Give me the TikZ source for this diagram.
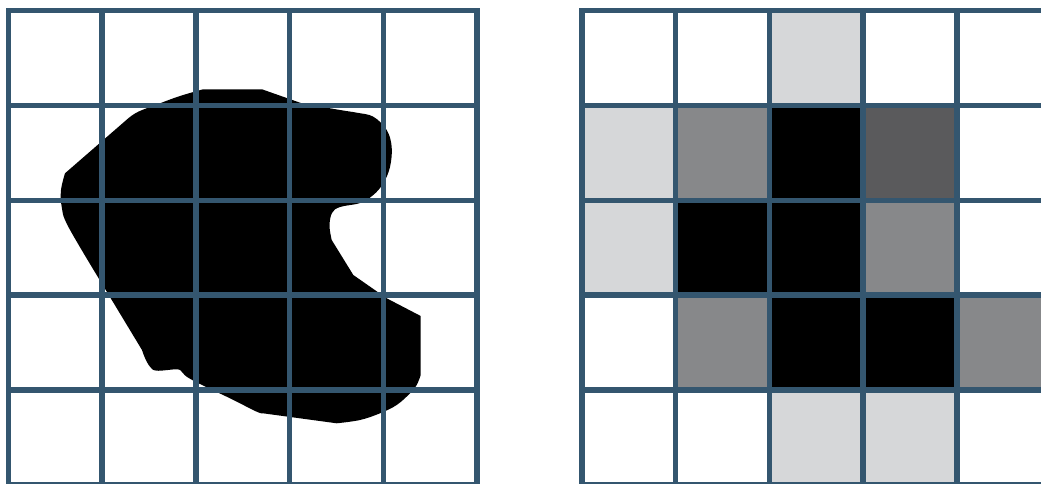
\documentclass[tikz,border=0pt]{standalone}
\definecolor{gridblue}{RGB}{52,86,111}
\definecolor{lgray}{RGB}{214,215,217}
\definecolor{mgray}{RGB}{135,136,138}
\definecolor{dgray}{RGB}{90,90,92}
\tikzset{gridline/.style={draw=gridblue,line width=5.5pt,line cap=rect}}
\begin{document}
\begin{tikzpicture}[x=1pt,y=-1pt]
\useasboundingbox (0,0) rectangle (1041,484);
\clip (0,0) rectangle (1041,484);
% blob
\fill[black] (203,89.3) -- (262,89.3) -- (301.7,103.3)
 -- plot[smooth,tension=0.6] coordinates {(301.7,103.3)(340,110)(356.7,112.7)(373.3,116.7)(386.7,130)(391.7,147)(390,167)(383.3,183.3)(373.3,195)(360,203)(340,207)(332,213)(329.5,226)(331.7,240)}
 -- (353.3,275) -- (386.7,298.3) -- (420.7,316) -- (420.7,375)
 -- plot[smooth,tension=0.6] coordinates {(420.7,375)(416.7,385)(410,393.3)(396.7,405)(380,413.3)(360,420)(336.7,423.3)}
 -- (263,413.3)
 -- plot[smooth,tension=0.6] coordinates {(263,413.3)(256.7,411.7)(230,398.3)(200,384)(186.7,376.7)(181.7,371.7)(176.7,369.3)(156.7,370.7)(150,366.7)(145,358)(142,350)}
 -- (101.7,283.3)
 -- plot[smooth,tension=0.6] coordinates {(101.7,283.3)(68.3,226.7)(61.7,206.7)(61,190)(65,173.3)}
 -- (128.3,118.3)
 -- plot[smooth,tension=0.6] coordinates {(128.3,118.3)(138.3,111.7)(160,103.3)(180,96)(203,89.3)}
 -- cycle;
% right grid cells
\foreach \r/\c/\col in {0/2/lgray,1/0/lgray,1/1/mgray,1/2/black,1/3/dgray,2/0/lgray,2/1/black,2/2/black,2/3/mgray,3/1/mgray,3/2/black,3/3/black,3/4/mgray,4/2/lgray,4/3/lgray}{
  \fill[\col] ({582+93.7*\c},{10.5+94.9*\r}) rectangle ({582+93.7*(\c+1)},{10.5+94.9*(\r+1)});
}
% left grid
\foreach \i in {0,...,5}{
  \draw[gridline] ({8.5+93.7*\i},10.5) -- ({8.5+93.7*\i},485);
  \draw[gridline] (8.5,{10.5+94.9*\i}) -- (477,{10.5+94.9*\i});
}
% right grid
\foreach \i in {0,...,5}{
  \draw[gridline] ({582+93.7*\i},10.5) -- ({582+93.7*\i},485);
  \draw[gridline] (582,{10.5+94.9*\i}) -- (1050.5,{10.5+94.9*\i});
}
\end{tikzpicture}
\end{document}
